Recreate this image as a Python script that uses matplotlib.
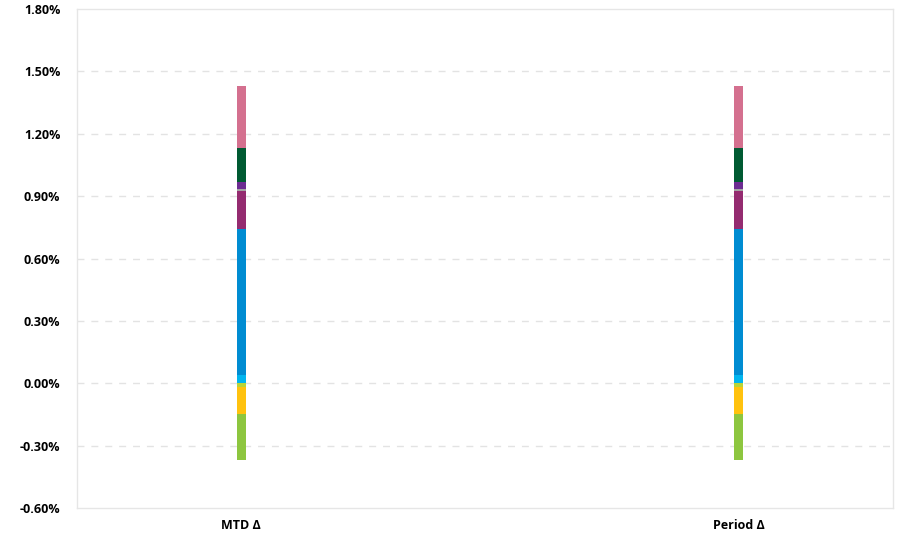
import matplotlib
matplotlib.use("Agg")
import matplotlib.pyplot as plt
import numpy as np

categories = ["MTD Δ", "Period Δ"]

# stacked contributions (in %), positive segments bottom-up, negatives top-down
pos_colors = ["#00B5EF", "#008CD2", "#942B70", "#A3A3A3", "#6C2C91", "#005A32", "#D4708F"]
pos_values = [0.039, 0.703, 0.183, 0.010, 0.034, 0.164, 0.298]
neg_colors = ["#B9D438", "#FFC20E", "#8DC63F"]
neg_values = [-0.019, -0.130, -0.222]

yticks = [-0.6, -0.3, 0.0, 0.3, 0.6, 0.9, 1.2, 1.5, 1.8]

plt.rcParams["font.family"] = ["Open Sans", "DejaVu Sans"]

fig = plt.figure(figsize=(9.09, 5.37), dpi=100)
ax = fig.add_axes([77 / 909, 1 - 508 / 537, (893 - 77) / 909, (508 - 9) / 537])

x = np.arange(len(categories))
width = 0.018

bottom = np.zeros(len(categories))
for val, col in zip(pos_values, pos_colors):
    h = np.full(len(categories), val)
    ax.bar(x, h, width, bottom=bottom, color=col, zorder=3, linewidth=0)
    bottom += h

bottom = np.zeros(len(categories))
for val, col in zip(neg_values, neg_colors):
    h = np.full(len(categories), val)
    ax.bar(x, h, width, bottom=bottom, color=col, zorder=3, linewidth=0)
    bottom += h

ax.set_xlim(-0.33, 1.31)
ax.set_ylim(-0.6, 1.8)
ax.set_yticks(yticks)
ax.set_yticklabels([f"{t:.2f}%" for t in yticks], fontsize=9, fontweight="bold")
ax.set_xticks(x)
ax.set_xticklabels(categories, fontsize=9, fontweight="bold")
ax.tick_params(length=0)
ax.tick_params(axis="x", pad=8)
ax.tick_params(axis="y", pad=12)

for t in yticks[1:-1]:
    ax.axhline(t, color="#e3e3e3", lw=1, ls=(0, (5, 5)), zorder=1)

for s in ax.spines.values():
    s.set_color("#e6e6e6")
    s.set_linewidth(1)

fig.savefig("out.png", dpi=100)
